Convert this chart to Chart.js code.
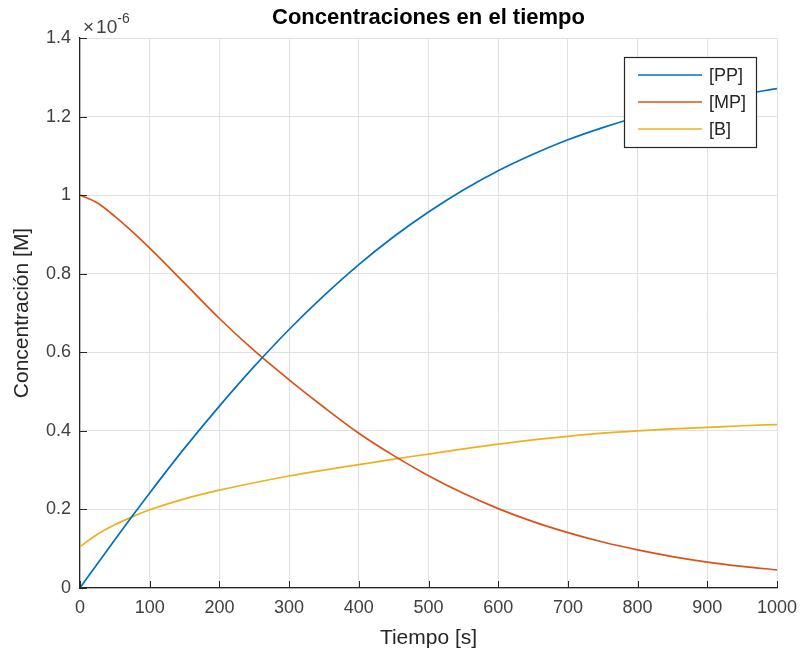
<!DOCTYPE html>
<html>
<head>
<meta charset="utf-8">
<script src="https://cdn.jsdelivr.net/npm/chart.js@4.4.1/dist/chart.umd.min.js"></script>
<style>
  html, body { margin: 0; padding: 0; background: #ffffff; }
  #wrap { width: 801px; height: 661px; }
</style>
</head>
<body>
<div id="wrap"><canvas id="c" width="801" height="661"></canvas></div>
<script>
// Time axis [s]
const tiempo = [0, 25, 50, 75, 100, 150, 200, 250, 300, 350, 400, 450, 500, 550, 600, 650, 700, 750, 800, 850, 900, 950, 1000];
// Concentrations in units of 1e-6 M
const PP = [0, 0.062, 0.123, 0.183, 0.242, 0.356, 0.463, 0.564, 0.658, 0.744, 0.823, 0.894, 0.957, 1.013, 1.062, 1.104, 1.141, 1.172, 1.199, 1.222, 1.241, 1.257, 1.271];
const MP = [1.0, 0.980, 0.946, 0.907, 0.865, 0.776, 0.686, 0.604, 0.530, 0.460, 0.394, 0.337, 0.286, 0.241, 0.202, 0.169, 0.141, 0.117, 0.097, 0.080, 0.066, 0.055, 0.046];
const B  = [0.105, 0.137, 0.161, 0.181, 0.199, 0.227, 0.249, 0.268, 0.285, 0.300, 0.314, 0.328, 0.341, 0.354, 0.366, 0.377, 0.386, 0.394, 0.400, 0.405, 0.409, 0.413, 0.416];
const seriesNames = ['[PP]', '[MP]', '[B]'];
const xTicks = [0, 100, 200, 300, 400, 500, 600, 700, 800, 900, 1000];
const xTickLabels = ['0', '100', '200', '300', '400', '500', '600', '700', '800', '900', '1000'];
const yTicks = [0, 0.2, 0.4, 0.6, 0.8, 1, 1.2, 1.4];
const yTickLabels = ['0', '0.2', '0.4', '0.6', '0.8', '1', '1.2', '1.4'];
const titleText = 'Concentraciones en el tiempo';
const xTitle = 'Tiempo [s]';
const yTitle = 'Concentración [M]';
const exponentText = '-6';

const colors = ['#0072BD', '#D95319', '#EDB120'];
const AX = '#262626';
const FONT = '"Liberation Sans", Arial, Helvetica, sans-serif';

function pts(arr) { return tiempo.map((t, i) => ({x: t, y: arr[i]})); }
function lookup(ticks, labels, v) {
  const i = ticks.findIndex(t => Math.abs(t - v) < 1e-9);
  return i >= 0 ? labels[i] : '';
}

const decor = {
  id: 'decor',
  afterDatasetsDraw(chart) {
    const ctx = chart.ctx;
    const a = chart.chartArea;
    const xs = chart.scales.x, ys = chart.scales.y;
    ctx.save();
    // inner tick marks
    ctx.strokeStyle = AX;
    ctx.lineWidth = 1;
    ctx.beginPath();
    yTicks.forEach(v => {
      const y = Math.round(ys.getPixelForValue(v)) + 0.5;
      ctx.moveTo(a.left, y); ctx.lineTo(a.left + 7, y);
    });
    xTicks.forEach(v => {
      const x = Math.round(xs.getPixelForValue(v)) + 0.5;
      ctx.moveTo(x, a.bottom); ctx.lineTo(x, a.bottom - 7);
    });
    ctx.stroke();

    // legend box
    const lx = 624, ly = 57, lw = 132, lh = 90;
    ctx.fillStyle = '#ffffff';
    ctx.fillRect(lx, ly, lw, lh);
    ctx.strokeStyle = AX;
    ctx.lineWidth = 1.2;
    ctx.strokeRect(lx + 0.5, ly + 0.5, lw, lh);
    ctx.font = '18px ' + FONT;
    ctx.textBaseline = 'middle';
    ctx.textAlign = 'left';
    chart.data.datasets.forEach((ds, i) => {
      const y = 75 + i * 27;
      ctx.strokeStyle = ds.borderColor;
      ctx.lineWidth = 1.7;
      ctx.beginPath();
      ctx.moveTo(638, y); ctx.lineTo(702, y);
      ctx.stroke();
      ctx.fillStyle = AX;
      ctx.fillText(ds.label, 709, y + 1);
    });

    // title
    ctx.fillStyle = '#000000';
    ctx.font = 'bold 22px ' + FONT;
    ctx.textAlign = 'center';
    ctx.textBaseline = 'middle';
    ctx.fillText(titleText, (a.left + a.right) / 2, 18);

    // exponent label
    ctx.fillStyle = '#404040';
    ctx.textAlign = 'left';
    ctx.textBaseline = 'alphabetic';
    ctx.font = '19px ' + FONT;
    ctx.fillText('\u00d7', 83, 33);
    const w1 = ctx.measureText('\u00d7').width;
    ctx.fillText('10', 83 + w1 + 2, 33);
    const w2 = ctx.measureText('10').width;
    ctx.font = '14px ' + FONT;
    ctx.fillText(exponentText, 83 + w1 + 2 + w2, 23);
    ctx.restore();
  }
};

new Chart(document.getElementById('c'), {
  type: 'line',
  data: {
    datasets: [
      { label: seriesNames[0], data: pts(PP), borderColor: colors[0], backgroundColor: colors[0] },
      { label: seriesNames[1], data: pts(MP), borderColor: colors[1], backgroundColor: colors[1] },
      { label: seriesNames[2], data: pts(B),  borderColor: colors[2], backgroundColor: colors[2] }
    ].map(d => Object.assign(d, { borderWidth: 1.7, pointRadius: 0, fill: false, cubicInterpolationMode: 'monotone' }))
  },
  options: {
    responsive: false,
    animation: false,
    events: [],
    layout: { padding: { left: 0, right: 24, top: 38, bottom: 0 } },
    plugins: { legend: { display: false }, title: { display: false }, tooltip: { enabled: false } },
    scales: {
      x: {
        type: 'linear', min: 0, max: 1000,
        afterBuildTicks: s => { s.ticks = xTicks.map(v => ({ value: v })); },
        afterFit: s => { s.height = 73; s.paddingLeft = 0; s.paddingRight = 0; },
        grid: { color: '#e1e1e1', lineWidth: 1, drawTicks: false },
        border: { display: true, color: AX, width: 1.2 },
        ticks: {
          color: '#404040', font: { family: FONT, size: 18 }, padding: 9, maxRotation: 0, autoSkip: false,
          callback: (v) => lookup(xTicks, xTickLabels, v)
        },
        title: { display: true, text: xTitle, color: AX, font: { family: FONT, size: 21 }, padding: { top: 0, bottom: 10 } }
      },
      y: {
        type: 'linear', min: 0, max: 1.4,
        afterBuildTicks: s => { s.ticks = yTicks.map(v => ({ value: v })); },
        afterFit: s => { s.width = 80; s.paddingTop = 0; s.paddingBottom = 0; },
        grid: { color: '#e1e1e1', lineWidth: 1, drawTicks: false },
        border: { display: true, color: AX, width: 1.2 },
        ticks: {
          color: '#404040', font: { family: FONT, size: 18 }, padding: 9, autoSkip: false,
          callback: (v) => lookup(yTicks, yTickLabels, v)
        },
        title: { display: true, text: yTitle, color: AX, font: { family: FONT, size: 21 }, padding: { top: 10, bottom: 0 } }
      }
    }
  },
  plugins: [decor]
});
</script>
</body>
</html>
